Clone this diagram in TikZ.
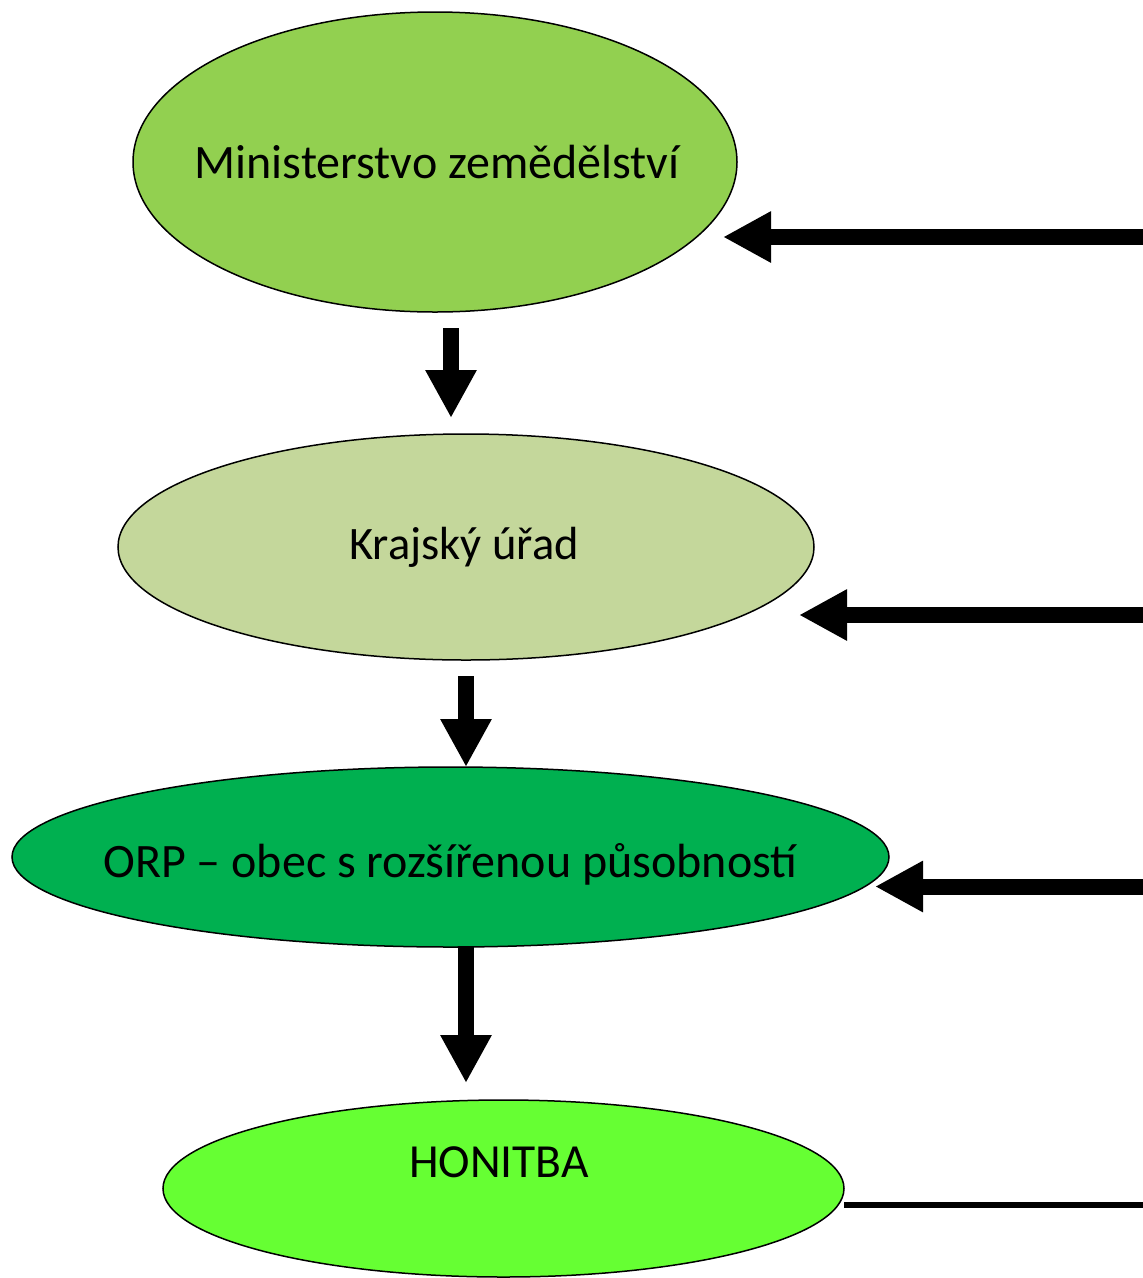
\documentclass[tikz,border=0pt]{standalone}
\usepackage{fontspec}
\setmainfont{Carlito}
\usetikzlibrary{shapes.geometric,arrows.meta}
\definecolor{cmin}{HTML}{92D050}
\definecolor{ckraj}{HTML}{C4D79B}
\definecolor{corp}{HTML}{00B050}
\definecolor{chon}{HTML}{66FF33}
\tikzset{
  oval/.style={ellipse, draw=black, line width=1.5pt, inner sep=0pt, outer sep=0pt},
  lbl/.style={anchor=base, inner sep=0pt},
  bigarrow/.style={line width=16pt, -{Triangle[length=48pt,width=48pt]}},
  thinline/.style={line width=6pt}
}
\begin{document}
\begin{tikzpicture}[x=1pt,y=-1pt]
\useasboundingbox (0,0) rectangle (1143,1278);
\node[oval, fill=cmin, minimum width=604pt, minimum height=300pt] (m) at (435,162) {};
\node[oval, fill=ckraj, minimum width=696pt, minimum height=226pt] (k) at (466,547) {};
\node[oval, fill=corp, minimum width=877pt, minimum height=180pt] (o) at (450.5,857) {};
\node[oval, fill=chon, minimum width=681pt, minimum height=177pt] (h) at (503.5,1188.5) {};
\node[lbl, font=\fontsize{48}{56}\selectfont] (tm) at (437,178) {Ministerstvo zemědělství};
\node[lbl, font=\fontsize{46.5}{56}\selectfont] (tk) at (464,559) {Krajský úřad};
\node[lbl, font=\fontsize{48}{56}\selectfont] (to) at (450.5,877) {ORP – obec s rozšířenou působností};
\node[lbl, font=\fontsize{47.5}{56}\selectfont] (th) at (499,1177) {HONITBA};
\coordinate (r1) at (1143,237);
\coordinate (r2) at (1143,615);
\coordinate (r3) at (1143,886.5);
\coordinate (r4) at (1143,1205);
\draw[bigarrow] (r1) -- ([xshift=-14pt]r1 -| m.east);
\draw[bigarrow] (r2) -- ([xshift=-15pt]r2 -| k.east);
\draw[bigarrow] (r3) -- ([xshift=-14pt]r3 -| o.east);
\draw[thinline] (r4 -| h.east) -- (r4);
\draw[bigarrow, shorten <=16pt, shorten >=16pt] ([xshift=16pt]m.south) -- ([xshift=16pt]m.south |- k.north);
\draw[bigarrow, shorten <=16pt] (k.south) -- (k.south |- o.north);
\draw[bigarrow, shorten >=17pt] ([xshift=15.5pt]o.south) -- ([xshift=15.5pt]o.south |- h.north);
\end{tikzpicture}
\end{document}
